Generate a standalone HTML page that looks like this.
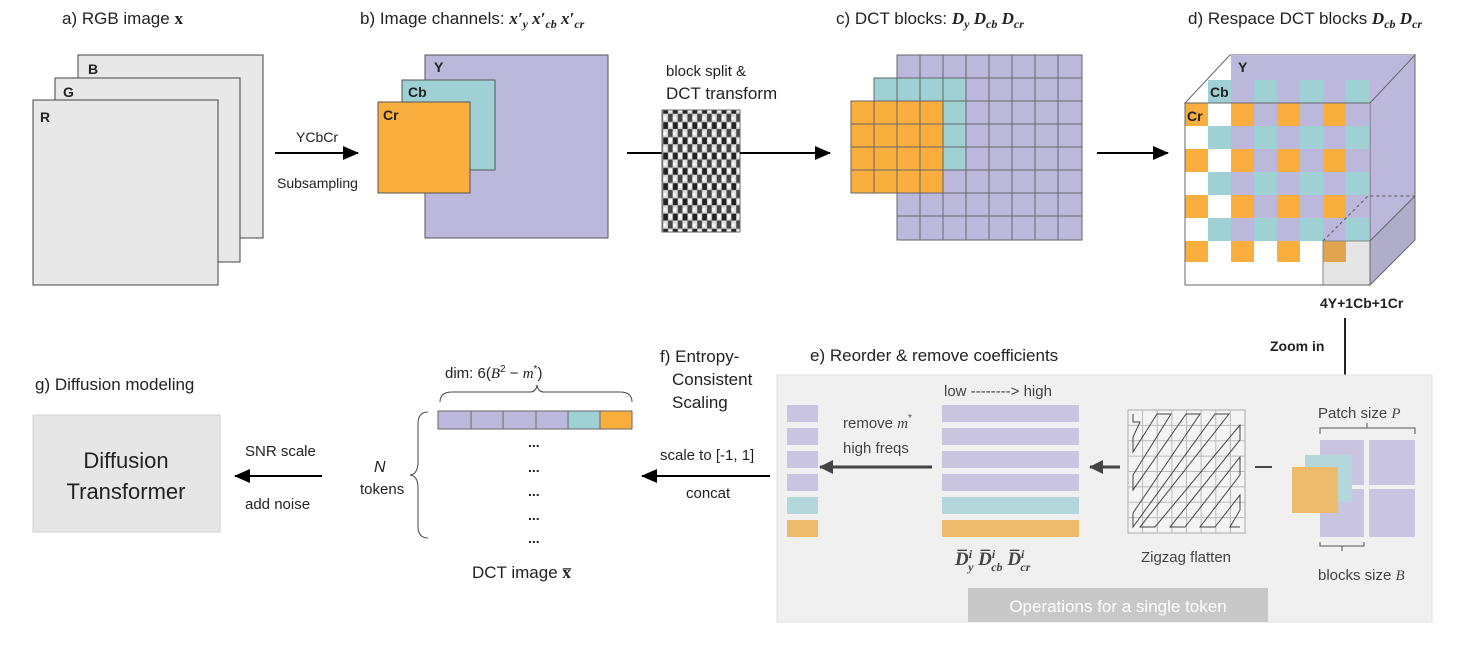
<!DOCTYPE html>
<html><head><meta charset="utf-8"><style>
html,body{margin:0;padding:0;background:#fff}
svg{display:block}
text{font-family:"Liberation Sans",sans-serif;fill:#222}
.m{font-family:"Liberation Serif",serif;font-weight:bold;font-style:italic}
</style></head><body>
<svg width="1474" height="661" viewBox="0 0 1474 661" xmlns="http://www.w3.org/2000/svg">
<defs>
<marker id="ag" markerWidth="14" markerHeight="14" refX="13" refY="7" orient="auto" markerUnits="userSpaceOnUse"><path d="M0,0 L14,7 L0,14 z" fill="#444"/></marker>
<marker id="ab" markerWidth="16" markerHeight="14" refX="15" refY="7" orient="auto" markerUnits="userSpaceOnUse"><path d="M0,0 L16,7 L0,14 z" fill="#000"/></marker>
<pattern id="dct" width="9.75" height="15.25" patternUnits="userSpaceOnUse">
<rect width="9.75" height="15.25" fill="#ddd"/>
<rect x="0" y="0" width="5" height="7" fill="#222"/><rect x="5" y="7" width="4.75" height="8" fill="#444"/><rect x="0" y="10" width="3" height="3" fill="#fff"/><rect x="6" y="1" width="3" height="4" fill="#fff"/>
<rect x="0" y="0" width="9.75" height="15.25" fill="none" stroke="#999" stroke-width="0.6"/>
</pattern>
</defs>

<!-- a) -->
<text x="62" y="24" font-size="17">a) RGB image <tspan font-family="Liberation Serif" font-weight="bold">x</tspan></text>
<rect x="78" y="55" width="185" height="183" fill="#e8e8e8" stroke="#444" stroke-width="1"/>
<rect x="55" y="78" width="185" height="184" fill="#e8e8e8" stroke="#444" stroke-width="1"/>
<rect x="33" y="100" width="185" height="185" fill="#e8e8e8" stroke="#444" stroke-width="1"/>
<text x="88" y="74" font-size="14" font-weight="bold">B</text>
<text x="63" y="97" font-size="14" font-weight="bold">G</text>
<text x="40" y="122" font-size="14" font-weight="bold">R</text>
<line x1="275" y1="153" x2="358" y2="153" stroke="#000" stroke-width="2" marker-end="url(#ab)"/>
<text x="296" y="142" font-size="14">YCbCr</text>
<text x="277" y="188" font-size="14">Subsampling</text>

<!-- b) -->
<text x="360" y="24" font-size="17">b) Image channels: <tspan class="m" font-style="normal">x′<tspan font-size="12" dy="4" font-style="italic">y</tspan><tspan dy="-4">  x′</tspan><tspan font-size="12" dy="4" font-style="italic">cb</tspan><tspan dy="-4">  x′</tspan><tspan font-size="12" dy="4" font-style="italic">cr</tspan></tspan></text>
<rect x="425" y="55" width="183" height="183" fill="#bcb8dc" stroke="#555"/>
<rect x="402" y="80" width="93" height="90" fill="#9fd1d4" stroke="#555"/>
<rect x="378" y="102" width="92" height="91" fill="#f9ae3d" stroke="#555"/>
<text x="434" y="72" font-size="14" font-weight="bold">Y</text>
<text x="408" y="97" font-size="14" font-weight="bold">Cb</text>
<text x="383" y="120" font-size="14" font-weight="bold">Cr</text>
<text x="666" y="76" font-size="15">block split &amp;</text>
<text x="666" y="99" font-size="17">DCT transform</text>
<line x1="627" y1="153" x2="662" y2="153" stroke="#000" stroke-width="2"/>
<rect x="662" y="110" width="78" height="122" fill="url(#dct)" stroke="#666"/>
<line x1="740" y1="153" x2="830" y2="153" stroke="#000" stroke-width="2" marker-end="url(#ab)"/>

<!-- c) -->
<text x="836" y="24" font-size="17">c) DCT blocks: <tspan class="m" font-style="italic">D<tspan font-size="12" dy="4">y</tspan><tspan dy="-4">  D</tspan><tspan font-size="12" dy="4">cb</tspan><tspan dy="-4">  D</tspan><tspan font-size="12" dy="4">cr</tspan></tspan></text>
<g stroke="#666" stroke-width="1">
<rect x="897" y="55" width="185" height="185" fill="#bcb8dc"/>
<path d="M920,55V240M943,55V240M966,55V240M989,55V240M1012,55V240M1035,55V240M1058,55V240M897,78H1082M897,101H1082M897,124H1082M897,147H1082M897,170H1082M897,193H1082M897,216H1082" fill="none"/>
<rect x="874" y="78" width="92" height="92" fill="#9fd1d4"/>
<path d="M897,78V170M920,78V170M943,78V170M874,101H966M874,124H966M874,147H966" fill="none"/>
<rect x="851" y="101" width="92" height="92" fill="#f9ae3d"/>
<path d="M874,101V193M897,101V193M920,101V193M851,124H943M851,147H943M851,170H943" fill="none"/>
</g>
<line x1="1097" y1="153" x2="1168" y2="153" stroke="#000" stroke-width="2" marker-end="url(#ab)"/>

<!-- d) -->
<text x="1188" y="24" font-size="17">d) Respace DCT blocks <tspan class="m">D<tspan font-size="12" dy="4">cb</tspan><tspan dy="-4">  D</tspan><tspan font-size="12" dy="4">cr</tspan></tspan></text>
<polygon points="1185,103 1230,55 1415,55 1370,103" fill="#fff" stroke="#666"/>
<polygon points="1231,55 1415,55 1370,103 1231,103" fill="#bcb8dc"/>
<polygon points="1370,103 1415,55 1415,240 1370,285" fill="#bcb8dc" stroke="#666"/>
<rect x="1185" y="103" width="185" height="182" fill="#fff" stroke="#666"/>
<g>
<rect x="1208" y="80" width="23" height="23" fill="#9fd1d4"/>
<rect x="1231" y="80" width="23" height="23" fill="#bcb8dc"/><rect x="1254" y="80" width="23" height="23" fill="#9fd1d4"/>
<rect x="1277" y="80" width="23" height="23" fill="#bcb8dc"/><rect x="1300" y="80" width="23" height="23" fill="#9fd1d4"/>
<rect x="1323" y="80" width="23" height="23" fill="#bcb8dc"/><rect x="1346" y="80" width="23" height="23" fill="#9fd1d4"/>
</g>
<g id="r0">
<rect x="1185" y="103" width="23" height="23" fill="#f9ae3d"/>
<rect x="1231" y="103" width="23" height="23" fill="#f9ae3d"/><rect x="1254" y="103" width="23" height="23" fill="#bcb8dc"/>
<rect x="1277" y="103" width="23" height="23" fill="#f9ae3d"/><rect x="1300" y="103" width="23" height="23" fill="#bcb8dc"/>
<rect x="1323" y="103" width="23" height="23" fill="#f9ae3d"/><rect x="1346" y="103" width="23" height="23" fill="#bcb8dc"/>
</g>
<g id="r1">
<rect x="1208" y="126" width="23" height="23" fill="#9fd1d4"/>
<rect x="1231" y="126" width="23" height="23" fill="#bcb8dc"/><rect x="1254" y="126" width="23" height="23" fill="#9fd1d4"/>
<rect x="1277" y="126" width="23" height="23" fill="#bcb8dc"/><rect x="1300" y="126" width="23" height="23" fill="#9fd1d4"/>
<rect x="1323" y="126" width="23" height="23" fill="#bcb8dc"/><rect x="1346" y="126" width="23" height="23" fill="#9fd1d4"/>
</g>
<use href="#r0" y="46"/><use href="#r1" y="46"/><use href="#r0" y="92"/><use href="#r1" y="92"/>
<rect x="1185" y="241" width="23" height="21" fill="#f9ae3d"/><rect x="1231" y="241" width="23" height="21" fill="#f9ae3d"/>
<rect x="1277" y="241" width="23" height="21" fill="#f9ae3d"/><rect x="1323" y="241" width="23" height="21" fill="#f9ae3d"/>
<polygon points="1323,241 1370,241 1415,196 1415,240 1370,285 1323,285" fill="#888" fill-opacity="0.22"/>
<path d="M1323,241 L1368,196 L1415,196" fill="none" stroke="#555" stroke-dasharray="3,3"/>
<path d="M1323,241V285M1370,241H1323" fill="none" stroke="#888"/>
<path d="M1370,241 L1415,196" stroke="#666"/>
<rect x="1185" y="103" width="185" height="182" fill="none" stroke="#666"/>
<text x="1238" y="72" font-size="14" font-weight="bold">Y</text>
<text x="1210" y="97" font-size="14" font-weight="bold">Cb</text>
<text x="1187" y="121" font-size="14" font-weight="bold">Cr</text>
<text x="1320" y="308" font-size="14" font-weight="bold">4Y+1Cb+1Cr</text>
<text x="1270" y="351" font-size="14" font-weight="bold">Zoom in</text>
<line x1="1345" y1="318" x2="1345" y2="390" stroke="#222" stroke-width="2" marker-end="url(#ag)"/>

<!-- e) panel -->
<rect x="777" y="375" width="655" height="247" fill="#f0f0f0" stroke="#e2e2e2"/>
<text x="810" y="361" font-size="17">e) Reorder &amp; remove coefficients</text>
<rect x="968" y="588" width="300" height="34" fill="#c8c8c8"/>
<text x="1118" y="612" font-size="17" text-anchor="middle" style="fill:#fff">Operations for a single token</text>
<g fill="#c9c5e0">
<rect x="1320" y="440" width="44" height="45"/><rect x="1369" y="440" width="46" height="45"/>
<rect x="1320" y="489" width="44" height="48"/><rect x="1369" y="489" width="46" height="48"/>
</g>
<rect x="1305" y="455" width="47" height="47" fill="#b3d7da"/>
<rect x="1292" y="467" width="46" height="46" fill="#ecbb6c"/>
<text x="1318" y="418" font-size="15" style="fill:#444">Patch size <tspan font-family="Liberation Serif" font-style="italic">P</tspan></text>
<path d="M1320,434V428H1415V434M1367,428V423" fill="none" stroke="#555"/>
<path d="M1320,542V546H1364V542M1342,546V551" fill="none" stroke="#555"/>
<text x="1318" y="580" font-size="15" style="fill:#444">blocks size <tspan font-family="Liberation Serif" font-style="italic">B</tspan></text>
<line x1="1255" y1="467" x2="1272" y2="467" stroke="#444" stroke-width="2"/>
<rect x="1128" y="410" width="117" height="123" fill="#f4f4f4" stroke="#aaa"/>
<path d="M1142.6,410V533M1157.3,410V533M1171.9,410V533M1186.5,410V533M1201.1,410V533M1215.8,410V533M1230.4,410V533M1128,425.4H1245M1128,440.8H1245M1128,456.1H1245M1128,471.5H1245M1128,486.9H1245M1128,502.3H1245M1128,517.6H1245" stroke="#bbb" fill="none"/>
<path d="M1133,414V422H1140L1133,437V452L1157,414H1171L1133,475V490L1186,414H1200L1133,513V527L1215,414H1229L1140,527H1155L1240,425V440L1170,527H1185L1240,457V475L1200,527H1215L1240,495V510L1230,527H1240" fill="none" stroke="#444" stroke-width="1"/>
<text x="1186" y="562" font-size="15" text-anchor="middle" style="fill:#444">Zigzag flatten</text>
<line x1="1120" y1="467" x2="1090" y2="467" stroke="#444" stroke-width="3" marker-end="url(#ag)"/>
<text x="944" y="396" font-size="15" style="fill:#444">low --------&gt; high</text>
<rect x="942" y="405" width="137" height="17" fill="#c9c5e0"/>
<rect x="942" y="428" width="137" height="17" fill="#c9c5e0"/>
<rect x="942" y="451" width="137" height="17" fill="#c9c5e0"/>
<rect x="942" y="474" width="137" height="17" fill="#c9c5e0"/>
<rect x="942" y="497" width="137" height="17" fill="#b3d7da"/>
<rect x="942" y="520" width="137" height="17" fill="#ecbb6c"/>
<text x="955" y="565" font-size="19" class="m" style="fill:#444">D̅<tspan font-size="12" dy="-7">i</tspan><tspan font-size="12" dx="-4" dy="13">y</tspan><tspan dy="-6"> D̅</tspan><tspan font-size="12" dy="-7">i</tspan><tspan font-size="12" dx="-4" dy="13">cb</tspan><tspan dy="-6"> D̅</tspan><tspan font-size="12" dy="-7">i</tspan><tspan font-size="12" dx="-4" dy="13">cr</tspan></text>
<line x1="932" y1="467" x2="820" y2="467" stroke="#444" stroke-width="3" marker-end="url(#ag)"/>
<text x="843" y="428" font-size="15" style="fill:#444">remove <tspan font-family="Liberation Serif" font-style="italic">m</tspan><tspan font-size="10" dy="-7">*</tspan></text>
<text x="843" y="453" font-size="15" style="fill:#444">high freqs</text>
<rect x="787" y="405" width="31" height="17" fill="#c9c5e0"/>
<rect x="787" y="428" width="31" height="17" fill="#c9c5e0"/>
<rect x="787" y="451" width="31" height="17" fill="#c9c5e0"/>
<rect x="787" y="474" width="31" height="17" fill="#c9c5e0"/>
<rect x="787" y="497" width="31" height="17" fill="#b3d7da"/>
<rect x="787" y="520" width="31" height="17" fill="#ecbb6c"/>

<!-- f) -->
<text x="660" y="362" font-size="17">f) Entropy-</text>
<text x="672" y="385" font-size="17">Consistent</text>
<text x="672" y="408" font-size="17">Scaling</text>
<text x="660" y="460" font-size="15">scale to [-1, 1]</text>
<text x="686" y="498" font-size="15">concat</text>
<line x1="770" y1="476" x2="642" y2="476" stroke="#000" stroke-width="2" marker-end="url(#ab)"/>

<!-- token -->
<text x="445" y="378" font-size="15">dim: 6(<tspan font-family="Liberation Serif" font-style="italic">B</tspan><tspan font-size="10" dy="-6">2</tspan><tspan dy="6"> − </tspan><tspan font-family="Liberation Serif" font-style="italic">m</tspan><tspan font-size="10" dy="-6">*</tspan><tspan dy="6">)</tspan></text>
<path d="M440,402 Q440,392 452,392 H530 Q536,392 537,385 Q538,392 544,392 H620 Q632,392 632,402" fill="none" stroke="#444"/>
<g stroke="#666">
<rect x="438" y="411" width="33" height="18" fill="#bcb8dc"/><rect x="471" y="411" width="32" height="18" fill="#bcb8dc"/>
<rect x="503" y="411" width="33" height="18" fill="#bcb8dc"/><rect x="536" y="411" width="32" height="18" fill="#bcb8dc"/>
<rect x="568" y="411" width="32" height="18" fill="#9fd1d4"/><rect x="600" y="411" width="32" height="18" fill="#f9ae3d"/>
</g>
<g font-size="14" font-weight="bold"><text x="528" y="447">...</text><text x="528" y="472">...</text><text x="528" y="496">...</text><text x="528" y="520">...</text><text x="528" y="543">...</text></g>
<path d="M428,412 Q418,412 418,424 V462 Q418,474 410,475 Q418,476 418,488 V526 Q418,538 428,538" fill="none" stroke="#444"/>
<text x="374" y="472" font-size="16" font-family="Liberation Serif" font-style="italic">N</text>
<text x="360" y="494" font-size="15">tokens</text>
<text x="472" y="578" font-size="17">DCT image <tspan font-family="Liberation Serif" font-weight="bold">x̅</tspan></text>

<!-- g) -->
<text x="35" y="390" font-size="17">g) Diffusion modeling</text>
<rect x="33" y="415" width="187" height="117" fill="#e6e6e6" stroke="#d0d0d0"/>
<text x="126" y="468" font-size="22" text-anchor="middle">Diffusion</text>
<text x="126" y="499" font-size="22" text-anchor="middle">Transformer</text>
<text x="245" y="456" font-size="15">SNR scale</text>
<text x="245" y="509" font-size="15">add noise</text>
<line x1="322" y1="476" x2="235" y2="476" stroke="#000" stroke-width="2" marker-end="url(#ab)"/>
</svg>
</body></html>
